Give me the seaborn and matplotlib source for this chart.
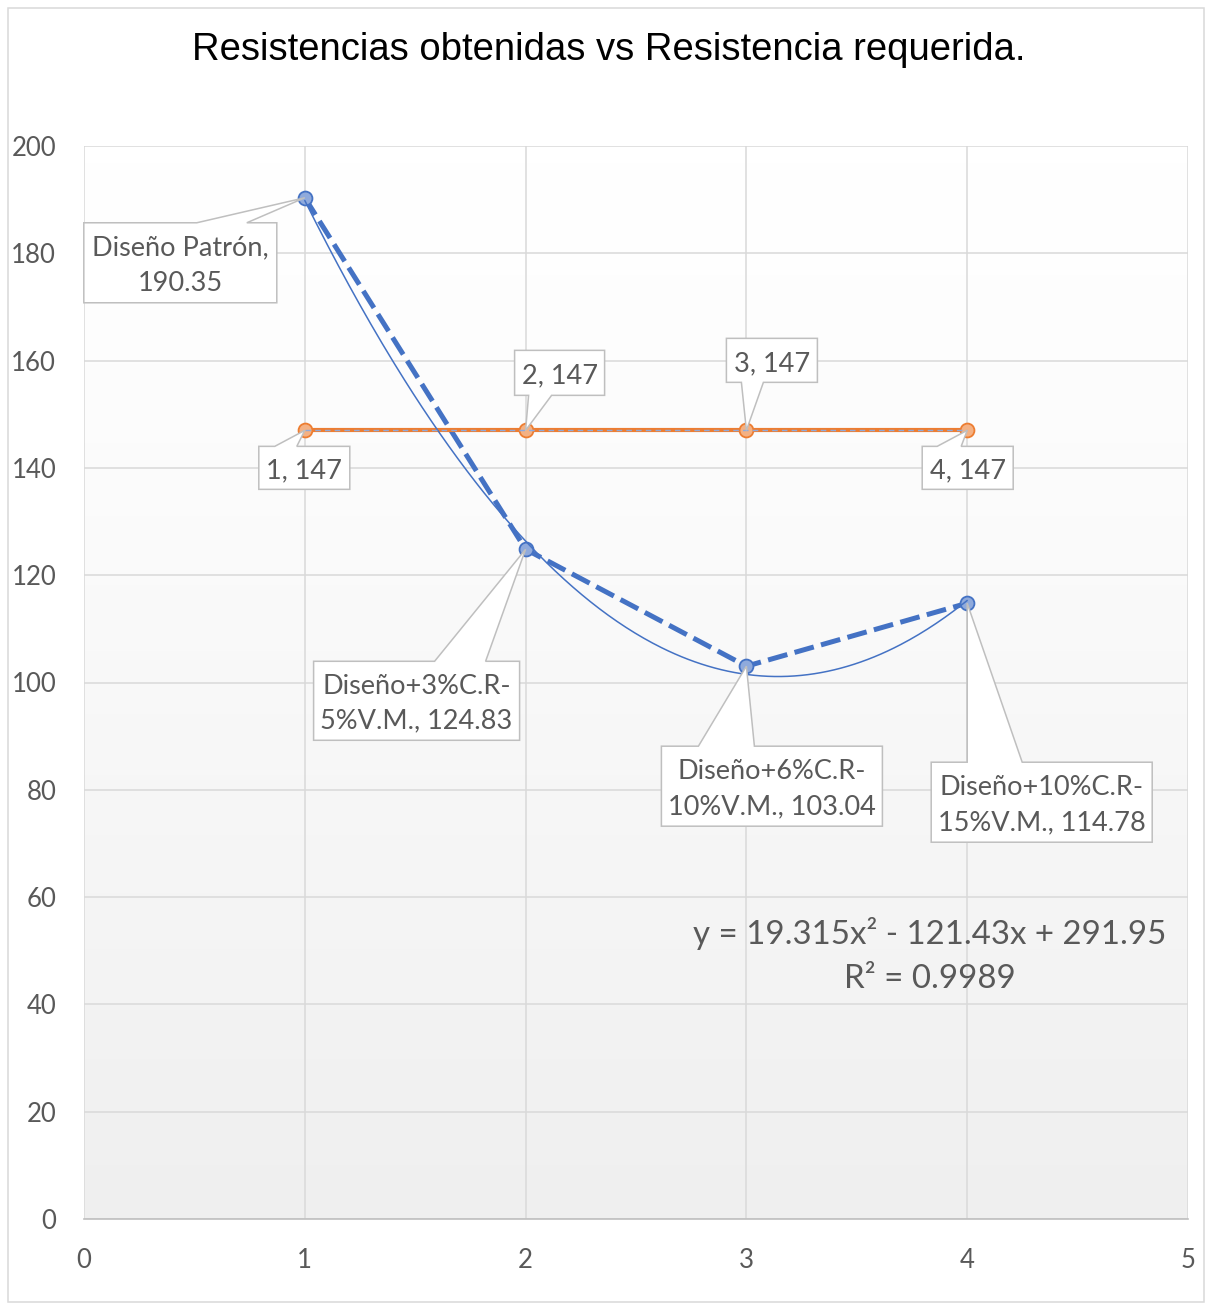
import numpy as np
import pandas as pd
import matplotlib
matplotlib.use("Agg")
import matplotlib.pyplot as plt
import seaborn as sns
from decimal import Decimal, ROUND_HALF_UP
from matplotlib.path import Path
from matplotlib.patches import PathPatch, Rectangle
from matplotlib.transforms import IdentityTransform
from matplotlib.colors import LinearSegmentedColormap

# ---- data -----------------------------------------------------------------
mezclas = ["Diseño Patrón", "Diseño+3%C.R-5%V.M.", "Diseño+6%C.R-10%V.M.",
           "Diseño+10%C.R-15%V.M."]
x_mezcla = [1, 2, 3, 4]
resistencia_obtenida = [190.35, 124.83, 103.04, 114.78]
resistencia_requerida = [147, 147, 147, 147]
x_ticks = [0, 1, 2, 3, 4, 5]
y_ticks = [0, 20, 40, 60, 80, 100, 120, 140, 160, 180, 200]
titulo = "Resistencias obtenidas vs Resistencia requerida."

# ---- style ----------------------------------------------------------------
W, H = 1206, 1305
AZUL = "#4472C4"
AZUL_CLARO = "#8FAADC"
NARANJA = "#ED7D31"
NARANJA_CLARO = "#F4B183"
GRIS_TXT = "#595959"
GRIS_BORDE = "#BFBFBF"
GRIS_REJ = "#D9D9D9"

sns.set_theme(style="white")
plt.rcParams["font.family"] = ["Lato", "DejaVu Sans"]

fig = plt.figure(figsize=(W / 100, H / 100), dpi=100)
fig.patch.set_facecolor("white")
ax = fig.add_axes([84 / W, 1 - 1219 / H, (1188 - 84) / W, (1219 - 146) / H])

# soft vertical gradient of the plot area
grad = np.linspace(0, 1, 256).reshape(-1, 1) ** 1.3
fondo = LinearSegmentedColormap.from_list("fondo", ["#ffffff", "#efefef"])
ax.imshow(grad, extent=[0, 5, 0, 200], origin="upper", aspect="auto",
          cmap=fondo, zorder=0, interpolation="bilinear")

# ---- series ---------------------------------------------------------------
df_obt = pd.DataFrame({"x": x_mezcla, "y": resistencia_obtenida})
df_req = pd.DataFrame({"x": x_mezcla, "y": resistencia_requerida})

sns.lineplot(data=df_obt, x="x", y="y", ax=ax, color=AZUL, lw=3.6,
             marker="o", markersize=10, markerfacecolor=AZUL_CLARO,
             markeredgecolor=AZUL, markeredgewidth=1.3, errorbar=None,
             zorder=4)
ax.lines[-1].set_dashes([4, 1.5])

sns.lineplot(data=df_req, x="x", y="y", ax=ax, color=NARANJA, lw=3.0,
             marker="o", markersize=10, markerfacecolor=NARANJA_CLARO,
             markeredgecolor=NARANJA, markeredgewidth=1.3, errorbar=None,
             zorder=5)

# polynomial (order 2) trendline of the obtained strengths
coef2 = np.polyfit(x_mezcla, resistencia_obtenida, 2)
xs = np.linspace(min(x_mezcla), max(x_mezcla), 300)
ax.plot(xs, np.polyval(coef2, xs), color=AZUL, lw=1.1, zorder=6)
pred = np.polyval(coef2, x_mezcla)
obs = np.asarray(resistencia_obtenida)
r2 = 1 - np.sum((obs - pred) ** 2) / np.sum((obs - obs.mean()) ** 2)

# linear trendline of the required strength
coef1 = np.polyfit(x_mezcla, resistencia_requerida, 1)
ax.plot(xs, np.polyval(coef1, xs), color=AZUL_CLARO, lw=1.0,
        linestyle=(0, (4, 3)), zorder=7)

# ---- axes -----------------------------------------------------------------
ax.set_xlim(0, 5)
ax.set_ylim(0, 200)
ax.set_xticks(x_ticks)
ax.set_yticks(y_ticks)
ax.set_axisbelow(True)
ax.grid(True, color=GRIS_REJ, lw=1.1)
for s in ax.spines.values():
    s.set_visible(False)
ax.spines["bottom"].set_visible(True)
ax.spines["bottom"].set_color(GRIS_BORDE)
ax.spines["bottom"].set_linewidth(1.2)
ax.tick_params(axis="both", length=0, labelsize=18.5, labelcolor=GRIS_TXT)
ax.tick_params(axis="y", pad=20)
ax.tick_params(axis="x", pad=21)
ax.set_xlabel("")
ax.set_ylabel("")


def sig5(v):
    d = Decimal(f"{abs(v):.8f}")
    digits = d.adjusted() + 1
    q = Decimal(1).scaleb(digits - 5)
    return str(d.quantize(q, rounding=ROUND_HALF_UP))


a, b, c = coef2
eq = (f"y = {sig5(a)}x² {'-' if b < 0 else '+'} {sig5(b)}x "
      f"{'-' if c < 0 else '+'} {sig5(c)}")
r2_txt = f"R² = {Decimal(f'{r2:.8f}').quantize(Decimal('0.0001'), rounding=ROUND_HALF_UP)}"

fig.text(930 / W, 1 - 934 / H, eq, ha="center", va="center", fontsize=23.8,
         color=GRIS_TXT)
fig.text(930 / W, 1 - 979 / H, r2_txt, ha="center", va="center", fontsize=23.8,
         color=GRIS_TXT)

# ---- callout data labels --------------------------------------------------
def etiqueta_mezcla(nombre, valor):
    if "-" in nombre:
        i = nombre.index("-") + 1
        return f"{nombre[:i]}\n{nombre[i:]}, {valor:g}"
    return f"{nombre},\n{valor:g}"


# box offset from the point (px, y downwards), size, wedge base, wedge side
caja_obt = [(-221, 25, 193, 80, 113, 163, "top"),
            (-212, 112, 206, 79, 121, 172, "top"),
            (-85, 80, 221, 80, 37, 93, "top"),
            (-36, 159, 221, 80, 36, 91, "top")]
caja_req = [(-46, 16, 91, 43, 16, 38, "top"),
            (-11, -80, 90, 45, 14, 37, "bottom"),
            (-20, -92, 91, 44, 15, 37, "bottom"),
            (-45, 16, 91, 43, 15, 39, "top")]


def callout(xd, yd, texto, dx, dy, w, h, w1, w2, lado):
    px, py = ax.transData.transform((xd, yd))
    iy = H - py
    L, T = px + dx, iy + dy
    R, B = L + w, T + h
    if lado == "top":
        pts = [(L, T), (L + w1, T), (px, iy), (L + w2, T), (R, T), (R, B),
               (L, B), (L, T)]
    else:
        pts = [(L, T), (R, T), (R, B), (L + w2, B), (px, iy), (L + w1, B),
               (L, B), (L, T)]
    verts = [(x, H - y) for x, y in pts]
    codes = [Path.MOVETO] + [Path.LINETO] * (len(verts) - 2) + [Path.CLOSEPOLY]
    patch = PathPatch(Path(verts, codes), facecolor="white",
                      edgecolor=GRIS_BORDE, lw=1.1,
                      transform=IdentityTransform(), zorder=8)
    fig.add_artist(patch)
    fig.text((L + R) / 2 / W, 1 - ((T + B) / 2 + 3) / H, texto, ha="center",
             va="center", fontsize=19.5, color=GRIS_TXT, linespacing=1.5,
             zorder=9)


for xv, yv, nombre, cfg in zip(x_mezcla, resistencia_obtenida, mezclas, caja_obt):
    callout(xv, yv, etiqueta_mezcla(nombre, yv), *cfg)
for xv, yv, cfg in zip(x_mezcla, resistencia_requerida, caja_req):
    callout(xv, yv, f"{xv}, {yv:g}", *cfg)

# ---- title and outer frame -----------------------------------------------
fig.text(609 / W, 1 - 50 / H, titulo, ha="center", va="center", fontsize=27.5,
         color="black", family=["Liberation Sans", "DejaVu Sans"])
fig.add_artist(Rectangle((8, H - 1302), 1196, 1294, transform=IdentityTransform(),
                         facecolor="none", edgecolor=GRIS_REJ, lw=1.1))

fig.savefig("out.png", dpi=100)
